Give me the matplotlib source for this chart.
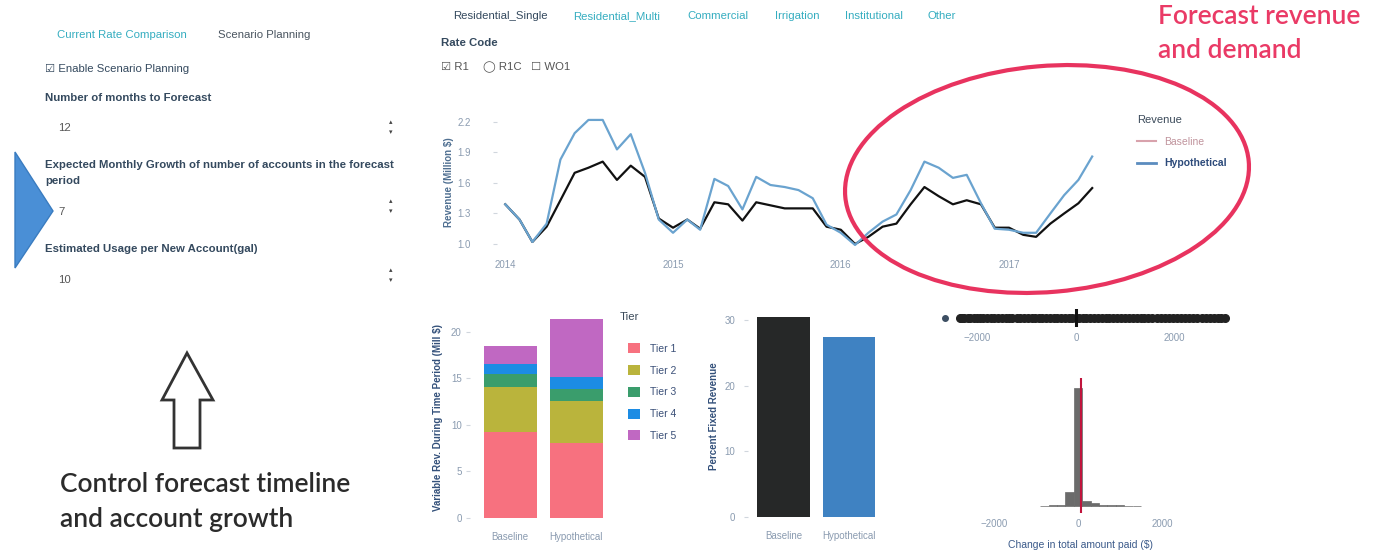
import matplotlib
matplotlib.use('Agg')
import matplotlib.pyplot as plt
import matplotlib.dates as mdates
import pandas as pd
from matplotlib.patches import Ellipse, Polygon
from matplotlib.lines import Line2D

# revenue forecast (million $), monthly from Jan 2014
months = pd.date_range('2014-01-01', periods=43, freq='MS')
rev_baseline = [1.39, 1.24, 1.02, 1.17, 1.43, 1.70, 1.75, 1.81, 1.63, 1.77, 1.66,
                1.25, 1.16, 1.24, 1.15, 1.41, 1.39, 1.23, 1.41, 1.38, 1.35, 1.35,
                1.35, 1.17, 1.14, 1.00, 1.07, 1.17, 1.20, 1.39, 1.56, 1.47, 1.39,
                1.43, 1.39, 1.16, 1.16, 1.09, 1.07, 1.20, 1.30, 1.40, 1.55]
rev_hypothetical = [1.39, 1.24, 1.02, 1.20, 1.83, 2.09, 2.22, 2.22, 1.93, 2.08, 1.70,
                    1.24, 1.11, 1.24, 1.14, 1.64, 1.57, 1.34, 1.66, 1.58, 1.56, 1.53,
                    1.45, 1.19, 1.11, 0.99, 1.11, 1.22, 1.29, 1.53, 1.81, 1.75, 1.65,
                    1.68, 1.40, 1.15, 1.14, 1.11, 1.11, 1.30, 1.48, 1.63, 1.86]

# variable revenue by tier (mill $)
scenarios = ['Baseline', 'Hypothetical']
tiers = ['Tier 1', 'Tier 2', 'Tier 3', 'Tier 4', 'Tier 5']
tier_baseline = [9.2, 4.9, 1.4, 1.1, 1.9]
tier_hypothetical = [8.1, 4.5, 1.3, 1.3, 6.2]
tier_colors = ['#f7717f', '#bab43c', '#3a9d6c', '#1c8ce4', '#c068c2']

# percent fixed revenue
fixed_pct = [30.5, 27.5]

# change in total amount paid ($)
change_points = [-2660, -2350, -2310, -2270, -2200, -2150, -2080, -2010, -1950, -1880,
                 -1800, -1720, -1660, -1590, -1500, -1430, -1370, -1290, -1200, -1130,
                 -1050, -980, -900, -830, -760, -690, -600, -520, -450, -380, -300,
                 -230, -150, -80, 0, 60, 140, 210, 290, 360, 440, 520, 600, 680, 750,
                 830, 910, 990, 1070, 1150, 1230, 1310, 1390, 1470, 1550, 1640, 1720,
                 1800, 1880, 1960, 2050, 2130, 2210, 2300, 2380, 2460, 2550, 2640,
                 2720, 2800, 2880, 2950, 3020]
change_median = 0
hist_edges = [-900, -700, -500, -300, -100, 100, 300, 500, 700, 900, 1100, 1300, 1500]
hist_counts = [3, 5, 8, 135, 1150, 50, 30, 10, 6, 4, 3, 2]
change_mean = 70

W, H = 1376, 551


def box(l, t, r, b):
    return [l / W, 1 - b / H, (r - l) / W, (b - t) / H]


ui = 'Liberation Sans'
teal = '#35adc0'
dark = '#34495e'
tick_c = '#8a9bb0'
ui_size = 8.2

fig = plt.figure(figsize=(W / 100, H / 100), dpi=100)
fig.patch.set_facecolor('white')


def clean(ax):
    for s in ax.spines.values():
        s.set_visible(False)
    ax.tick_params(colors='#d0d6dd', labelcolor=tick_c, labelsize=7, length=3)
    for lab in ax.get_xticklabels() + ax.get_yticklabels():
        lab.set_family(ui)


# ---- revenue line chart
ax = fig.add_axes(box(497, 112, 1100, 252))
ax.plot(months, rev_baseline, color='#111111', lw=1.6)
ax.plot(months, rev_hypothetical, color='#6aa3cf', lw=1.6)
ax.set_xlim(pd.Timestamp('2013-12-14'), pd.Timestamp('2017-07-18'))
ax.set_ylim(0.921, 2.298)
ax.set_yticks([1.0, 1.3, 1.6, 1.9, 2.2])
ax.xaxis.set_major_locator(mdates.YearLocator())
ax.xaxis.set_major_formatter(mdates.DateFormatter('%Y'))
clean(ax)
ax.tick_params(axis='x', length=0, pad=6)
ax.tick_params(axis='y', pad=16)
ax.set_ylabel('Revenue (Million $)', fontsize=7, color='#4f6f91', family=ui,
              fontweight='bold', labelpad=2)
leg = ax.legend(handles=[Line2D([], [], color='#d8a2ac', lw=1.5),
                         Line2D([], [], color='#5b8cbf', lw=2)],
                labels=['Baseline', 'Hypothetical'], title='Revenue',
                loc='upper left', bbox_to_anchor=(1128 / W, 1 - 106 / H),
                bbox_transform=fig.transFigure, frameon=False,
                handlelength=1.8, labelspacing=1.1, alignment='left',
                prop={'family': ui, 'size': 7.5})
leg.get_title().set_color('#3b4a5a')
leg.get_title().set_family(ui)
leg.get_title().set_fontsize(8)
leg.get_texts()[0].set_color('#c0939c')
leg.get_texts()[1].set_color('#2c4a7a')
leg.get_texts()[1].set_fontweight('bold')

# ---- stacked tier bars
ax2 = fig.add_axes(box(470, 317, 612, 518))
bottom_b, bottom_h = 0, 0
for name, vb, vh, c in zip(tiers, tier_baseline, tier_hypothetical, tier_colors):
    ax2.bar(scenarios, [vb, vh], bottom=[bottom_b, bottom_h], width=0.8, color=c, label=name)
    bottom_b += vb
    bottom_h += vh
ax2.set_xlim(-0.61, 1.54)
ax2.set_ylim(0, 21.6)
ax2.set_yticks([0, 5, 10, 15, 20])
clean(ax2)
ax2.tick_params(axis='x', length=0, pad=10)
ax2.tick_params(axis='y', pad=3)
ax2.set_ylabel('Variable Rev. During Time Period (Mill $)', fontsize=7,
               color='#33507a', family=ui, fontweight='bold', labelpad=6)
leg2 = ax2.legend(loc='upper left', bbox_to_anchor=(624 / W, 1 - 339 / H),
                  bbox_transform=fig.transFigure, frameon=False,
                  handlelength=1.1, handleheight=1.1, handletextpad=1.0,
                  labelspacing=1.08, borderaxespad=0,
                  prop={'family': ui, 'size': 7.5})
for t in leg2.get_texts():
    t.set_color('#3b5078')

# ---- percent fixed revenue
ax3 = fig.add_axes(box(748, 315, 882, 517))
ax3.bar(scenarios, fixed_pct, width=0.8, color=['#262828', '#3f82c2'])
ax3.set_xlim(-0.546, 1.515)
ax3.set_ylim(0, 30.8)
ax3.set_yticks([0, 10, 20, 30])
clean(ax3)
ax3.tick_params(axis='x', length=0, pad=10)
ax3.tick_params(axis='y', pad=6)
ax3.set_ylabel('Percent Fixed Revenue', fontsize=7, color='#33507a', family=ui,
               fontweight='bold', labelpad=4)

# ---- strip of bill changes
ax4 = fig.add_axes(box(940, 309, 1235, 327))
ax4.plot(change_points[1:], [0] * (len(change_points) - 1), 'o', color='#222222',
         ms=5.5, mec='#222222')
ax4.plot(change_points[:1], [0], 'o', color='#3d4f63', ms=4)
ax4.axvline(change_median, color='#111111', lw=2.2)
ax4.set_xlim(-2761, 3228)
ax4.set_ylim(-1, 1)
ax4.set_yticks([])
ax4.set_xticks([-2000, 0, 2000])
clean(ax4)
ax4.tick_params(axis='x', length=0, pad=4)

# ---- histogram of bill changes
ax5 = fig.add_axes(box(990, 378, 1170, 513))
ax5.bar(hist_edges[:-1], hist_counts, width=[b - a for a, b in zip(hist_edges[:-1], hist_edges[1:])],
        align='edge', color='#6b6b6b', edgecolor='#6b6b6b', lw=0.5)
ax5.axvline(change_mean, color='#c0143c', lw=1.5)
ax5.set_xlim(-2095, 2190)
ax5.set_ylim(-70, 1250)
ax5.set_yticks([])
ax5.set_xticks([-2000, 0, 2000])
clean(ax5)
ax5.tick_params(axis='x', length=0, pad=4)
ax5.set_xlabel('Change in total amount paid ($)', fontsize=7.5, color='#3b5a8a',
               family=ui, labelpad=8)

# ---- overlay: UI text and annotations, pixel coordinates
ov = fig.add_axes([0, 0, 1, 1], zorder=10)
ov.set_xlim(0, W)
ov.set_ylim(H, 0)
ov.axis('off')
ov.patch.set_alpha(0)


def txt(x, y, s, **kw):
    kw.setdefault('fontsize', ui_size)
    kw.setdefault('family', [ui, 'DejaVu Sans'])
    kw.setdefault('color', dark)
    ov.text(x, y, s, va='center', ha=kw.pop('ha', 'left'), **kw)


txt(57, 35, 'Current Rate Comparison', color=teal)
txt(218, 35, 'Scenario Planning', color='#4a5560')
txt(45, 69, '\u2611 Enable Scenario Planning')
txt(45, 98, 'Number of months to Forecast', fontweight='bold')
txt(58, 128, '12', color='#555555')
txt(45, 165, 'Expected Monthly Growth of number of accounts in the forecast', fontweight='bold')
txt(45, 181, 'period', fontweight='bold')
txt(58, 212, '7', color='#555555')
txt(45, 249, 'Estimated Usage per New Account(gal)', fontweight='bold')
txt(58, 280, '10', color='#555555')
for yy in (128, 207, 276):
    txt(391, yy - 5, '\u25b4', fontsize=5, color='#444444', ha='center')
    txt(391, yy + 5, '\u25be', fontsize=5, color='#444444', ha='center')

tabs = ['Residential_Single', 'Residential_Multi', 'Commercial', 'Irrigation',
        'Institutional', 'Other']
tab_x = [453, 573, 687, 775, 845, 928]
for i, (lab, x) in enumerate(zip(tabs, tab_x)):
    txt(x, 16, lab, color=dark if i == 0 else teal)
txt(441, 43, 'Rate Code', fontweight='bold')
txt(441, 67, '\u2611 R1', color='#555555')
txt(483, 67, '\u25ef R1C', color='#555555')
txt(531, 67, '\u2610 WO1', color='#555555')
txt(620, 317, 'Tier', color='#3b4a5a')

ov.add_patch(Polygon([(15, 152), (15, 268), (53, 211)], closed=True,
                     facecolor='#4a8fd6', edgecolor='#3a7cc0', lw=1))
ov.add_patch(Polygon([(187, 353), (213, 400), (200, 400), (200, 448), (174, 448),
                      (174, 400), (162, 400)], closed=True, facecolor='none',
                     edgecolor='#333333', lw=2, joinstyle='miter'))
big = dict(fontsize=19, family='Lato', fontweight='semibold', va='center')
ov.text(60, 485, 'Control forecast timeline', color='#2b2b2b', **big)
ov.text(60, 520, 'and account growth', color='#2b2b2b', **big)
ov.text(1158, 17, 'Forecast revenue', color='#ea3a66', **big)
ov.text(1158, 50, 'and demand', color='#ea3a66', **big)
ov.add_patch(Ellipse((1047, 179), 405, 226, angle=-5, facecolor='none',
                     edgecolor='#e8335f', lw=3))

fig.savefig('out.png', dpi=100, facecolor='white')
